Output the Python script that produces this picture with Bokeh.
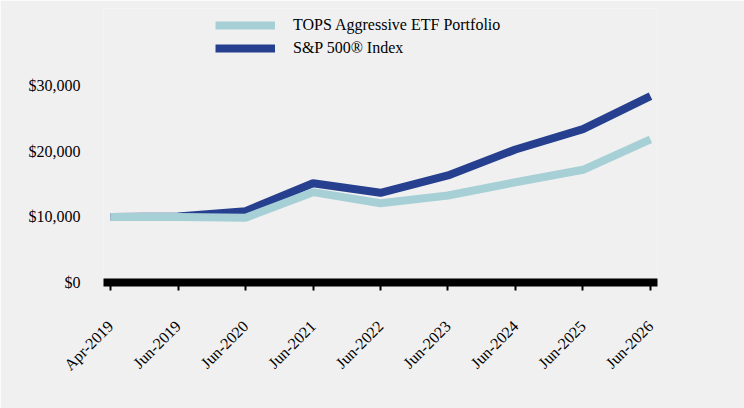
import math
from bokeh.plotting import figure
from bokeh.models import (FixedTicker, Legend, LegendItem, LabelSet, ColumnDataSource, Range1d)
from bokeh.embed import file_html
from bokeh.resources import INLINE

categories = ["Apr-2019", "Jun-2019", "Jun-2020", "Jun-2021", "Jun-2022",
              "Jun-2023", "Jun-2024", "Jun-2025", "Jun-2026"]
tops = [10000, 9990, 9880, 13790, 12110, 13280, 15310, 17210, 21841]
sp500 = [10000, 10060, 10890, 15160, 13700, 16340, 20310, 23410, 28460]
y_ticks = [0, 10000, 20000, 30000]
series_names = ["TOPS Aggressive ETF Portfolio", "S&P 500\u00ae Index"]

BG = "#F0F0F0"
LIGHT = "#A7D0D6"
DARK = "#26408F"
FONT = "Liberation Serif"

xs = list(range(len(categories)))

p = figure(width=744, height=408, output_backend="svg", toolbar_location=None,
           x_range=Range1d(-0.104, len(categories) - 1 + 0.104),
           y_range=Range1d(0, 41832),
           min_border_left=103, min_border_right=87, min_border_top=8, min_border_bottom=126)
p.background_fill_color = BG
p.border_fill_color = BG
p.outline_line_color = None
p.grid.visible = False

r_sp = p.line(xs, sp500, line_color=DARK, line_width=8)
r_tops = p.line(xs, tops, line_color=LIGHT, line_width=8)

# x axis
xa = p.xaxis[0]
xa.ticker = FixedTicker(ticks=xs)
xa.major_label_overrides = {i: c for i, c in enumerate(categories)}
xa.axis_line_width = 8
xa.axis_line_color = "black"
xa.major_tick_out = 8
xa.major_tick_in = 0
xa.major_tick_line_width = 2
xa.minor_tick_line_color = None
xa.major_label_orientation = math.pi / 4
xa.major_label_text_font = FONT
xa.major_label_text_font_size = "16px"
xa.major_label_text_color = "black"
xa.major_label_standoff = 33

# y axis
ya = p.yaxis[0]
ya.ticker = FixedTicker(ticks=y_ticks)
ya.major_label_overrides = {v: "${:,}".format(v) for v in y_ticks}
ya.axis_line_color = None
ya.major_tick_line_color = None
ya.minor_tick_line_color = None
ya.major_tick_out = 0
ya.major_tick_in = 0
ya.major_label_standoff = 23
ya.major_label_text_font = FONT
ya.major_label_text_font_size = "16px"
ya.major_label_text_color = "black"

# end labels
src = ColumnDataSource(dict(x=[xs[-1], xs[-1]], y=[sp500[-1], tops[-1]],
                            t=["${:,}".format(sp500[-1]), "${:,}".format(tops[-1])]))
labels = LabelSet(x="x", y="y", text="t", source=src, x_offset=12,
                  text_baseline="middle", text_font=FONT, text_font_size="13px",
                  text_font_style="bold", text_color="black")
p.add_layout(labels)

legend = Legend(items=[LegendItem(label=series_names[0], renderers=[r_tops]),
                       LegendItem(label=series_names[1], renderers=[r_sp])],
                location=(112, 224))
legend.border_line_color = None
legend.background_fill_alpha = 0
legend.padding = 0
legend.margin = 0
legend.spacing = 3
legend.glyph_width = 60
legend.glyph_height = 20
legend.label_height = 20
legend.label_standoff = 18
legend.label_text_font = FONT
legend.label_text_font_size = "16px"
legend.label_text_color = "black"
p.add_layout(legend)

html = file_html(p, INLINE)
html = html.replace("<body>", '<body style="background:#F0F0F0;">', 1)
open("out.html", "w").write(html)
